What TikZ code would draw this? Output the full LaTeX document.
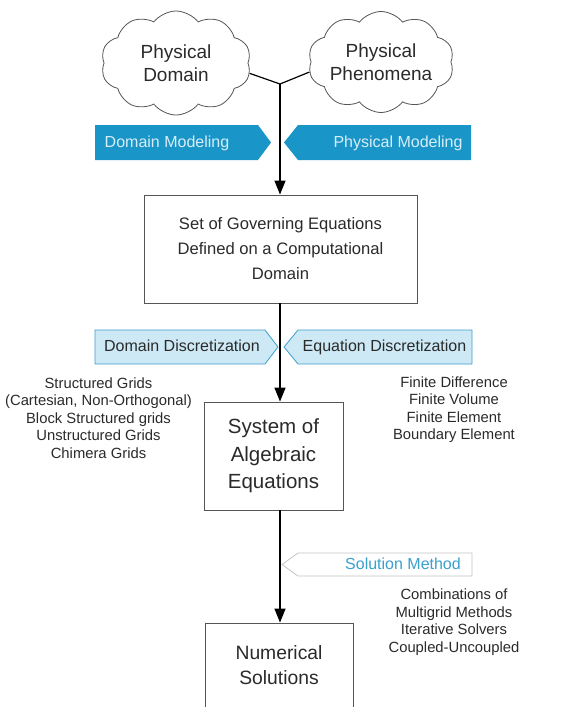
\documentclass[tikz,border=0pt]{standalone}
\usepackage{fontspec}
\setmainfont{Liberation Sans}
\usetikzlibrary{shapes.symbols,arrows.meta}
\definecolor{bannerblue}{HTML}{1A95C8}
\definecolor{bannertext}{HTML}{D6EEF8}
\definecolor{lightfill}{HTML}{CDE9F5}
\definecolor{lightedge}{HTML}{3A9FCC}
\definecolor{ink}{HTML}{2A2A2A}
\definecolor{boxedge}{HTML}{555555}
\definecolor{paleedge}{HTML}{C4C4C4}
\definecolor{soltext}{HTML}{3AA0CC}
\begin{document}
\begin{tikzpicture}[x=1pt,y=-1pt,
  cloudnode/.style={cloud, cloud puffs=10, cloud puff arc=105, cloud ignores aspect,
    draw=boxedge, line width=0.8pt, inner sep=0pt, text=ink, align=center,
    font=\fontsize{19}{23}\selectfont},
  procbox/.style={draw=boxedge, line width=0.9pt, inner sep=0pt, text=ink, align=center},
  darkbanner/.style={fill=bannerblue, draw=none},
  lightbanner/.style={fill=lightfill, draw=lightedge, line width=0.8pt},
  palebanner/.style={fill=white, draw=paleedge, line width=0.8pt},
  bantext/.style={inner sep=0pt, text height=11.5pt, text depth=3.5pt, font=\fontsize{16}{19}\selectfont},
  listtext/.style={inner sep=0pt, align=center, text=ink, font=\fontsize{14.8}{17.5}\selectfont},
  flow/.style={line width=1.5pt, -{Triangle[length=14pt,width=11pt]}},
  joinline/.style={line width=1.2pt}
]
\useasboundingbox (0,0) rectangle (570,707);
\clip (0,0) rectangle (570,707);

% clouds
\node[cloudnode, minimum width=150pt, minimum height=104pt] (lc) at (176,63) {Physical\\Domain};
\node[cloudnode, minimum width=145pt, minimum height=101pt] (rc) at (381,62) {Physical\\Phenomena};
\coordinate (j) at (280,84);
\draw[joinline] (lc.-8) -- (j);
\draw[joinline] (rc.188) -- (j);

% modeling banners
\draw[darkbanner] (95,125) -- (258,125) -- (271,142.5) -- (258,160) -- (95,160) -- cycle;
\draw[darkbanner] (471,125) -- (298,125) -- (284,142.5) -- (298,160) -- (471,160) -- cycle;
\node[bantext, text=bannertext] (dm) at (167,143) {Domain Modeling};
\node[bantext, text=bannertext] (pm) at (398,143) {Physical Modeling};

% governing equations box
\node[procbox, minimum width=273pt, minimum height=108pt,
  font=\fontsize{16.6}{25}\selectfont] (gov) at (280.5,249)
  {Set of Governing Equations\\Defined on a Computational\\Domain};
\draw[flow] (j) -- (j |- gov.north);

% discretization banners
\draw[lightbanner] (95,330) -- (265,330) -- (278,347) -- (265,364) -- (95,364) -- cycle;
\draw[lightbanner] (472,330) -- (298,330) -- (284,347) -- (298,364) -- (472,364) -- cycle;
\node[bantext, text=ink] (dd) at (182,347.5) {Domain Discretization};
\node[bantext, text=ink] (ed) at (384.5,347.5) {Equation Discretization};

% algebraic system box
\node[procbox, minimum width=139pt, minimum height=108pt,
  font=\fontsize{20.5}{27.5}\selectfont] (alg) at (273.5,456)
  {System of\\Algebraic\\Equations};
\draw[flow] (j |- gov.south) -- (j |- alg.north);

% lists
\node[listtext] (grids) at (98.5,418)
  {Structured Grids\\(Cartesian, Non-Orthogonal)\\Block Structured grids\\Unstructured Grids\\Chimera Grids};
\node[listtext] (fd) at (454,409.5)
  {Finite Difference\\Finite Volume\\Finite Element\\Boundary Element};

% solution method banner
\draw[palebanner] (472,553) -- (298,553) -- (282,564.5) -- (298,576) -- (472,576) -- cycle;
\node[bantext, text=soltext] (sm) at (403,565) {Solution Method};

% numerical solutions box (bottom cut by the frame)
\node[procbox, minimum width=148pt, minimum height=85pt,
  font=\fontsize{19.3}{25}\selectfont] (num) at (279,665.5)
  {Numerical\\Solutions};
\draw[flow] (j |- alg.south) -- (j |- num.north);

\node[listtext] (sol) at (454,622)
  {Combinations of\\Multigrid Methods\\Iterative Solvers\\Coupled-Uncoupled};
\end{tikzpicture}
\end{document}
